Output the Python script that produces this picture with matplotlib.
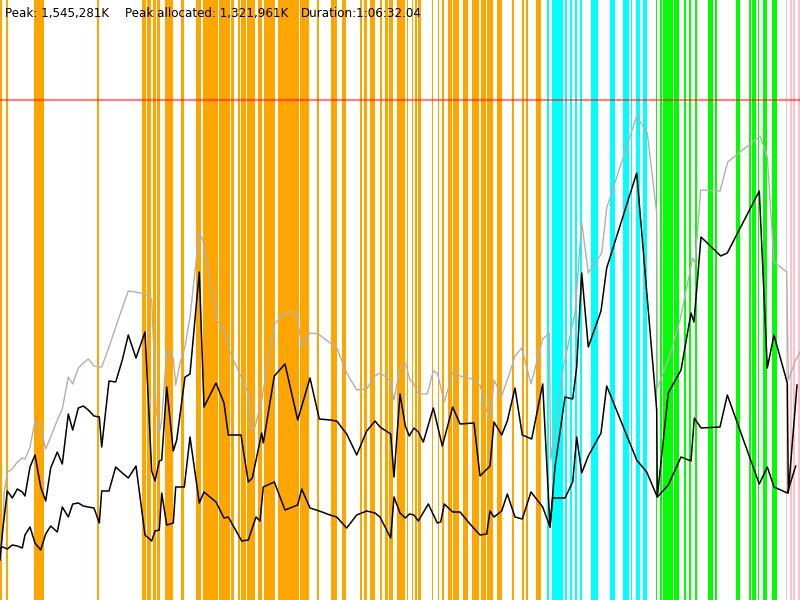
import matplotlib
matplotlib.use("Agg")
import matplotlib.pyplot as plt

# ---- data (time index 0..800, memory level 0..600) ----
upper_x = [0, 2.7, 7.3, 12.3, 17.3, 22.3, 25, 30, 35, 40.7, 45.7, 50.7, 57.3, 62.3, 68.3, 72.7, 78.3, 83.3, 88.3, 94,
           99.3, 101.7, 109, 115.7, 122.3, 128.3, 136, 145, 151.7, 155, 159.3, 161.7, 166.7, 173.3, 176.7, 185, 190,
           199.3, 204, 216, 224, 228.3, 241, 248.3, 252.3, 261.7, 263.3, 274.3, 285, 297.7, 310, 319.3, 330, 336.7,
           346.7, 356.7, 366.7, 375, 380, 390.7, 394, 400, 405.3, 409.3, 414, 418.3, 423.3, 433.3, 442.3, 452.7, 460,
           474, 480, 490, 494, 501.7, 507.3, 515, 522.3, 531.7, 542.7, 550, 555, 565, 572.7, 576.7, 581.7, 588.3, 601,
           606.7, 636.7, 656.7, 657.3, 668.3, 681, 691, 694, 701, 720.7, 727.3, 759.3, 767.3, 774, 787.3, 788.3, 797]
upper_y = [40, 70, 109, 102, 111, 108, 104, 133, 145, 113, 99, 132, 148, 136, 186, 170, 192, 194, 190, 184,
           183, 153, 219, 218, 240, 265, 242, 268, 129, 119, 139, 140, 213, 149, 160, 223, 226,
           328, 193, 217, 197, 165, 165, 118, 122, 167, 157, 224, 236, 180, 222, 181, 180, 179,
           166, 145, 169, 179, 173, 166, 123, 206, 174, 164, 172, 168, 158, 192, 154, 193, 176,
           177, 124, 134, 178, 165, 179, 212, 165, 161, 216, 73, 133, 203, 201, 233, 327, 253, 289,
           332, 427, 190, 103, 207, 230, 287, 278, 363, 344, 347, 409, 232, 265, 217, 107, 215]

peak_x = [0, 2.7, 4.2, 7.3, 12.3, 17.3, 22.3, 25, 30, 35, 40.7, 45.7, 50.7, 57.3, 62.3, 68.3, 72.7, 78.3, 83.3, 88.3, 94,
          99.3, 101.7, 109, 115.7, 122.3, 128.3, 136, 145, 151.7, 156, 159.3, 161.7, 166.7, 173.3, 175.7, 180, 185,
          190, 199.3, 203.3, 216.7, 223.3, 230, 248.3, 251.7, 255, 261.7, 274.3, 285, 296.7, 301.7, 310, 318.3,
          336.7, 346.7, 356.7, 366.7, 375, 380, 390, 394, 400, 405.3, 410, 413.3, 418.3, 427.3, 433.3, 437.3, 444.3,
          452.7, 460, 471.7, 480, 488.3, 490.7, 494, 501.7, 508.3, 515, 521.7, 531, 542.7, 549.3, 550.7, 563.3, 575,
          581.7, 588.3, 601.7, 606.7, 636.7, 647.3, 656.7, 657.3, 670, 680, 692.7, 695, 700.7, 720, 727.7, 760,
          767.3, 774, 786.7, 788.3, 795.7, 800]
peak_y = [40, 72, 107, 128, 131, 138, 142, 141, 153, 179, 172, 151, 163, 180, 191, 223, 216, 232, 237, 241, 234,
          233, 233, 253, 273, 292, 309, 308, 306, 301, 193, 167, 180, 250, 242, 215, 237, 253,
          283, 368, 358, 280, 272, 248, 207, 170, 173, 200, 276, 287, 286, 254, 267, 266,
          252, 227, 210, 211, 224, 227, 220, 200, 232, 237, 220, 217, 206, 206, 229, 227, 198,
          228, 224, 221, 215, 183, 184, 220, 204, 223, 244, 252, 216, 261, 267, 140, 233, 287,
          378, 327, 347, 392, 484, 467, 387, 212, 245, 280, 342, 337, 410, 409, 438, 464,
          443, 338, 328, 220, 240, 248]

lower_x = [0, 2.7, 7.3, 12.3, 17.3, 22.3, 25, 30, 35, 40.7, 45.7, 50.7, 57.3, 62.3, 68.3, 72.7, 78.3, 83.3, 88.3, 94,
           99.3, 101.7, 109, 115.7, 122.3, 128.3, 136, 145, 151.7, 155, 159.3, 161.7, 166.7, 173.3, 175.7, 184.3, 190,
           199.3, 204, 216, 224, 228.3, 241.7, 248.3, 256, 260, 263.3, 274.3, 285, 297.7, 301.7, 310, 319.3, 330,
           336.7, 346.7, 356.7, 366.7, 375, 380, 390.7, 394, 400, 405.3, 409.3, 414, 418.3, 428.3, 437.3, 440.7, 444.3,
           452.7, 460, 470, 480, 486.7, 490, 494, 501.7, 507.3, 515, 522.3, 531, 542.7, 550, 552.7, 565, 572.7, 576.7,
           581.7, 588.3, 601, 606.7, 636.7, 646.7, 657.3, 668.3, 681, 691, 694.3, 701, 720, 727.3, 759.3, 767.3, 774,
           787.3, 795.7]
lower_y = [52, 53, 51, 55, 54, 52, 65, 73, 57, 50, 66, 74, 68, 93, 83, 96, 97, 94, 93, 92,
           77, 109, 109, 133, 127, 122, 134, 65, 59, 69, 70, 107, 75, 77, 113, 113, 163,
           97, 108, 98, 82, 83, 59, 60, 83, 79, 113, 118, 90, 95, 111, 92, 89, 85,
           83, 72, 85, 89, 87, 83, 62, 103, 87, 82, 86, 85, 79, 96, 77, 78, 96,
           88, 88, 76, 65, 66, 89, 83, 89, 106, 83, 81, 108, 93, 73, 102, 102, 118, 163,
           127, 144, 167, 214, 140, 128, 103, 115, 143, 139, 182, 172, 173, 205, 116, 133, 113,
           107, 134]

limit_level = 500

orange_bands = [(0, 1.7), (6, 7.7), (34, 44), (97, 98.7), (142.3, 146), (147.3, 151), (152.7, 156),
                (157, 159.7), (165, 172.7), (181, 184), (196, 200.5), (203, 217.5), (219, 229.5),
                (230.7, 233.5), (238, 240), (241.2, 245.5), (247, 254.5), (258, 262.3), (263.5, 275),
                (278.3, 298.7), (300, 309), (317.3, 319), (330.7, 336.7), (341.7, 346), (360, 362.3),
                (364, 366.7), (370, 375), (380, 382.3), (385, 388.3), (389.3, 392.7), (397.3, 405),
                (406.7, 408.3), (411.7, 413.3), (415, 416.7), (418.3, 420.7), (432.3, 433.3), (437.7, 439.3),
                (441.7, 444.3), (447.7, 451.7), (453.3, 459), (463.3, 468.3), (471.7, 479.3), (480.7, 485.7),
                (487.3, 493.3), (496.7, 501.7), (511.7, 513.7), (522, 524), (526, 528.3), (536, 541)]
cyan_bands = [(546.7, 548.7), (551.7, 563.3), (565.3, 567.3), (570, 572.3), (575, 577.3), (580, 581.7),
              (591, 597.7), (610, 615), (623.3, 629.3), (630.7, 632), (635.7, 640), (642.7, 646.7)]
green_bands = [(655.7, 657.3), (660, 662), (662.7, 668.7), (669.3, 672.7), (674, 676.7), (677.3, 679),
               (684, 686), (689.3, 691), (695, 696.7), (708.3, 713.3), (715, 717.3), (735.7, 740.3),
               (749, 751), (751.7, 756), (757.7, 759), (763.3, 766.7), (771.7, 776.7)]
pink_bands = [(785.7, 787.3), (790, 791.7), (793.3, 795), (798.3, 800)]

summary = ["Peak: 1,545,281K", "Peak allocated: 1,321,961K", "Duration:1:06:32.04"]
summary_x = [5, 125.5, 301]

# ---- drawing ----
fig = plt.figure(figsize=(8, 6), dpi=100)
ax = fig.add_axes([0, 0, 1, 1])
ax.set_xlim(0, 800)
ax.set_ylim(0, 600)
ax.axis("off")

for bands, col in [(orange_bands, "#FFA500"), (cyan_bands, "#00FFFF"),
                   (green_bands, "#00FF00"), (pink_bands, "#FFC0CB")]:
    for s, e in bands:
        ax.axvspan(s, e, color=col, lw=0, zorder=1)

ax.plot(peak_x, peak_y, color="#b0b0b0", lw=1.0, zorder=3)
ax.plot(upper_x, upper_y, color="black", lw=1.1, zorder=4)
ax.plot(lower_x, lower_y, color="black", lw=1.1, zorder=4)
ax.axhline(limit_level, color="red", alpha=0.5, lw=1.6, zorder=5)

for t, x in zip(summary, summary_x):
    fig.text(x / 800, 1 - 17 / 600, t, fontsize=8.6, family="DejaVu Sans",
             va="baseline", ha="left", color="black", zorder=6)

fig.savefig("out.png", dpi=100)
